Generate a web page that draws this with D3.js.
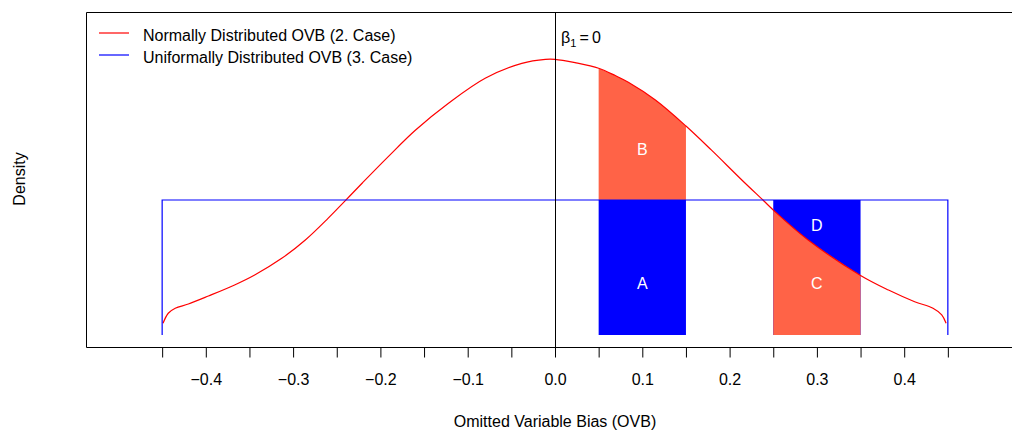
<!DOCTYPE html>
<html>
<head>
<meta charset="utf-8">
<script src="https://cdn.jsdelivr.net/npm/d3@7"></script>
<style>
  body { margin: 0; background: #fff; }
  svg text { font-family: "Liberation Sans", Arial, sans-serif; font-size: 16px; fill: #000; }
</style>
</head>
<body>
<svg id="chart" width="1012" height="431"></svg>
<script>
// density of the normally distributed OVB
var ovb  = [-0.449, -0.443, -0.435, -0.420, -0.397, -0.367, -0.344, -0.313, -0.286, -0.260,
            -0.241, -0.221, -0.191, -0.160, -0.122, -0.080, -0.038, -0.011, 0.000, 0.023,
             0.050, 0.069, 0.084, 0.115, 0.150, 0.179, 0.214, 0.239, 0.250, 0.290,
             0.350, 0.382, 0.412, 0.433, 0.443, 0.448];
var dens = [0.096, 0.179, 0.220, 0.255, 0.321, 0.412, 0.494, 0.631, 0.782, 0.960,
            1.100, 1.249, 1.468, 1.685, 1.907, 2.113, 2.236, 2.269, 2.269, 2.241,
            2.195, 2.135, 2.080, 1.934, 1.720, 1.523, 1.276, 1.105, 1.029, 0.782,
            0.490, 0.370, 0.274, 0.220, 0.165, 0.096];

// uniform OVB on [-0.45, 0.45]
var unifRange = [-0.45, 0.45];
var unifDens = 1.111;

// shaded intervals
var shadeLo = [0.05, 0.25];
var shadeHi = [0.15, 0.35];

var tickVals = [-0.45, -0.40, -0.35, -0.30, -0.25, -0.20, -0.15, -0.10, -0.05, 0.00,
                 0.05, 0.10, 0.15, 0.20, 0.25, 0.30, 0.35, 0.40, 0.45];
var tickLabels = ["", "\u22120.4", "", "\u22120.3", "", "\u22120.2", "", "\u22120.1", "", "0.0",
                  "", "0.1", "", "0.2", "", "0.3", "", "0.4", ""];

var legendNames = ["Normally Distributed OVB (2. Case)", "Uniformally Distributed OVB (3. Case)"];
var legendColors = ["#ff0000", "#0000ff"];

var svg = d3.select("#chart");
var box = {left: 86, top: 12.5, bottom: 347.5};

var x = d3.scaleLinear().domain([-0.45, 0.45]).range([162.15, 947.85]);
var y = d3.scaleLinear().domain([0, unifDens]).range([335, 200]);

var pts = ovb.map(function(d, i){ return {x: d, y: dens[i]}; });

function between(lo, hi){
  return pts.filter(function(p){ return p.x >= lo - 1e-9 && p.x <= hi + 1e-9; });
}

// blue rectangles (A and D)
svg.selectAll("rect.unif")
  .data(shadeLo).enter()
  .append("rect").classed("unif", true)
  .attr("x", function(d){ return x(d); })
  .attr("y", y(unifDens))
  .attr("width", function(d, i){ return x(shadeHi[i]) - x(d); })
  .attr("height", y(0) - y(unifDens))
  .attr("fill", "#0000ff");

// coral areas: B above uniform level, C below the curve
var areaB = d3.area().curve(d3.curveCatmullRom)
  .x(function(p){ return x(p.x); })
  .y0(y(unifDens))
  .y1(function(p){ return y(p.y); });
var areaC = d3.area().curve(d3.curveCatmullRom)
  .x(function(p){ return x(p.x); })
  .y0(y(0))
  .y1(function(p){ return y(p.y); });

svg.append("path").attr("d", areaB(between(shadeLo[0], shadeHi[0]))).attr("fill", "#ff6347");
svg.append("path").attr("d", areaC(between(shadeLo[1], shadeHi[1]))).attr("fill", "#ff6347");

// letters
var letters = [
  {t: "B", x: 0.1, y: 1.53},
  {t: "A", x: 0.1, y: 0.43},
  {t: "D", x: 0.3, y: 0.905},
  {t: "C", x: 0.3, y: 0.43}
];
svg.selectAll("text.letter")
  .data(letters).enter()
  .append("text").classed("letter", true)
  .attr("x", function(d){ return x(d.x); })
  .attr("y", function(d){ return y(d.y); })
  .attr("dy", "0.36em")
  .attr("text-anchor", "middle")
  .style("fill", "#ffffff")
  .text(function(d){ return d.t; });

// normal density curve
var line = d3.line().curve(d3.curveCatmullRom)
  .x(function(p){ return x(p.x); })
  .y(function(p){ return y(p.y); });
svg.append("path").attr("d", line(pts))
  .attr("fill", "none").attr("stroke", "#ff0000").attr("stroke-width", 1.2);

// uniform density outline
var unifPath = d3.line()
  .x(function(p){ return x(p[0]); })
  .y(function(p){ return y(p[1]); });
svg.append("path")
  .attr("d", unifPath([[unifRange[0], 0], [unifRange[0], unifDens], [unifRange[1], unifDens], [unifRange[1], 0]]))
  .attr("fill", "none").attr("stroke", "#0000ff").attr("stroke-width", 1.2);

// vertical line at zero
svg.append("line")
  .attr("x1", Math.round(x(0)) + 0.5).attr("x2", Math.round(x(0)) + 0.5)
  .attr("y1", box.top).attr("y2", box.bottom)
  .attr("stroke", "#000").attr("stroke-width", 1);

var beta = svg.append("text").attr("x", 561).attr("y", 43);
beta.append("tspan").text("\u03b2");
beta.append("tspan").attr("dy", 4).style("font-size", "11px").text("1");
beta.append("tspan").attr("dy", -4).text("\u2009=\u20090");

// plot box (right side runs off the picture)
svg.append("path")
  .attr("d", "M1013," + box.top + "H" + (box.left + 0.5) + "V" + box.bottom + "H1013")
  .attr("fill", "none").attr("stroke", "#000").attr("stroke-width", 1);

// x axis
var axis = d3.axisBottom(x)
  .tickValues(tickVals)
  .tickSize(10)
  .tickPadding(16)
  .tickFormat(function(d, i){ return tickLabels[i]; });
var gx = svg.append("g").attr("transform", "translate(0," + box.bottom + ")").call(axis);
gx.select(".domain").remove();
gx.selectAll("text").style("font-size", "16px").style("font-family", "'Liberation Sans', Arial, sans-serif").attr("fill", "#000");

// axis titles
svg.append("text").attr("x", 555).attr("y", 427).attr("text-anchor", "middle")
  .text("Omitted Variable Bias (OVB)");
svg.append("text").attr("transform", "translate(25,179) rotate(-90)").attr("text-anchor", "middle")
  .text("Density");

// legend
var legItems = legendNames.map(function(n, i){ return {name: n, color: legendColors[i], row: i}; });
var leg = svg.selectAll("g.legend")
  .data(legItems).enter()
  .append("g").classed("legend", true)
  .attr("transform", function(d){ return "translate(0," + (33 + d.row * 22) + ")"; });
leg.append("line")
  .attr("x1", 99).attr("x2", 129)
  .attr("stroke", function(d){ return d.color; }).attr("stroke-width", 1.2);
leg.append("text").attr("x", 143).attr("y", 7.5)
  .text(function(d){ return d.name; });
</script>
</body>
</html>
